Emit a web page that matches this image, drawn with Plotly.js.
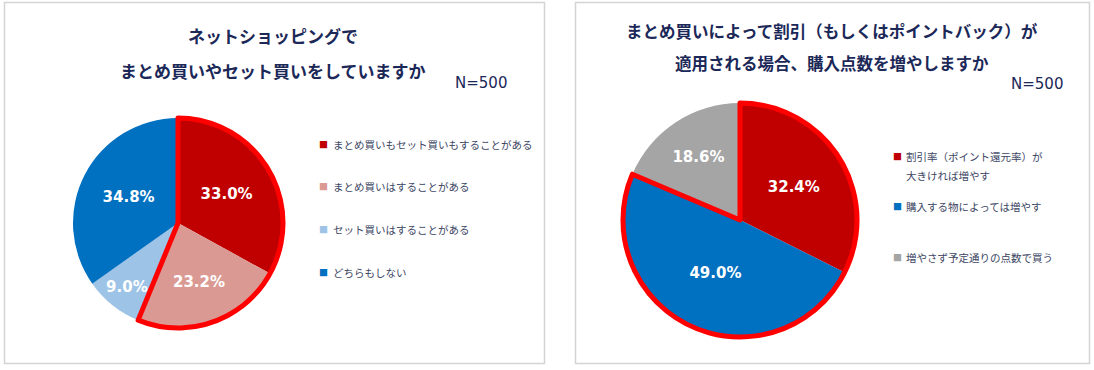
<!DOCTYPE html>
<html>
<head>
<meta charset="utf-8">
<script src="https://cdn.plot.ly/plotly-3.0.1.min.js"></script>
<style>
  html, body { margin: 0; padding: 0; background: #ffffff; }
  #chart { width: 1094px; height: 370px; }
</style>
</head>
<body>
<div id="chart"></div>
<script>
// ---- Data ----
const leftTitleLines = ['ネットショッピングで', 'まとめ買いやセット買いをしていますか'];
const leftCategories = ['まとめ買いもセット買いもすることがある', 'まとめ買いはすることがある', 'セット買いはすることがある', 'どちらもしない'];
const leftValues = [33.0, 23.2, 9.0, 34.8];
const leftColors = ['#C00000', '#DA9A93', '#9DC3E6', '#0070C0'];
const leftHighlighted = [0, 1];

const rightTitleLines = ['まとめ買いによって割引（もしくはポイントバック）が', '適用される場合、購入点数を増やしますか'];
const rightLegendLines = [['割引率（ポイント還元率）が', '大きければ増やす'], ['購入する物によっては増やす'], ['増やさず予定通りの点数で買う']];
const rightCategories = rightLegendLines.map(l => l.join(''));
const rightValues = [32.4, 49.0, 18.6];
const rightColors = ['#C00000', '#0070C0', '#A5A5A5'];
const rightHighlighted = [0, 1];

const sampleNote = 'N=500';

// ---- Layout constants ----
const W = 1094, H = 370;
const px = x => x / W;
const py = y => 1 - y / H;
const titleColor = '#1B2858';
const legendColor = '#3C4563';
const cjk = '"Noto Sans CJK JP", "Noto Sans", sans-serif';

function pieTrace(labels, values, colors, domain) {
  return {
    type: 'pie', labels: labels, values: values, sort: false, direction: 'clockwise', rotation: 0,
    marker: { colors: colors, line: { width: 0 } },
    texttemplate: '%{value:.1f}%', textposition: 'inside', insidetextorientation: 'horizontal',
    textfont: { family: '"DejaVu Sans", Verdana, sans-serif', size: 15, color: '#ffffff', weight: 'bold' },
    domain: domain, showlegend: false, hoverinfo: 'label+percent'
  };
}
function outlineTrace(values, highlighted, domain) {
  const hi = values.filter((v, i) => highlighted.includes(i)).reduce((a, b) => a + b, 0);
  const rest = values.filter((v, i) => !highlighted.includes(i)).reduce((a, b) => a + b, 0);
  return {
    type: 'pie', labels: ['highlight', 'rest'], values: [hi, rest], sort: false, direction: 'clockwise', rotation: 0,
    marker: { colors: ['rgba(0,0,0,0)', 'rgba(0,0,0,0)'], line: { color: '#FF0000', width: [5, 0] } },
    textinfo: 'none', hoverinfo: 'skip', domain: domain, showlegend: false
  };
}

const leftDomain = { x: [px(73), px(283)], y: [py(328), py(118)] };
const rightDomain = { x: [px(623), px(857)], y: [py(337), py(103)] };

const data = [
  pieTrace(leftCategories, leftValues, leftColors, leftDomain),
  outlineTrace(leftValues, leftHighlighted, leftDomain),
  pieTrace(rightCategories, rightValues, rightColors, rightDomain),
  outlineTrace(rightValues, rightHighlighted, rightDomain)
];

const annotations = [];
function addText(text, x, y, opts) {
  annotations.push(Object.assign({
    text: text, x: px(x), y: py(y), xref: 'paper', yref: 'paper', showarrow: false,
    xanchor: 'left', yanchor: 'middle', align: 'left',
    font: { family: cjk, size: 10.5, color: legendColor }
  }, opts || {}));
}
// titles
leftTitleLines.forEach((t, i) => addText('<b>' + t + '</b>', 273, [35, 70][i], { xanchor: 'center', align: 'center', font: { family: cjk, size: 17, color: titleColor } }));
rightTitleLines.forEach((t, i) => addText('<b>' + t + '</b>', 832, [31, 63][i], { xanchor: 'center', align: 'center', font: { family: cjk, size: 16.5, color: titleColor } }));
// N notes
const nFont = { family: '"DejaVu Sans", sans-serif', size: 15, color: titleColor };
addText(sampleNote, 481, 83, { xanchor: 'center', font: nFont });
addText(sampleNote, 1037, 84, { xanchor: 'center', font: nFont });
// legends
const leftRows = [144, 187, 229, 272];
leftCategories.forEach((c, i) => {
  addText('■', 323.5, leftRows[i], { xanchor: 'center', font: { family: cjk, size: 9, color: leftColors[i] } });
  addText(c, 331, leftRows[i]);
});
const rightRows = [[156, 175], [207], [257]];
rightLegendLines.forEach((lines, i) => {
  addText('■', 897.5, rightRows[i][0], { xanchor: 'center', font: { family: cjk, size: 9, color: rightColors[i] } });
  lines.forEach((l, j) => addText(l, 904, rightRows[i][j]));
});

const shapes = [
  { type: 'rect', xref: 'paper', yref: 'paper', x0: px(4.5), x1: px(544.5), y0: py(363.5), y1: py(2.5), line: { color: '#D4D4D4', width: 1.5 } },
  { type: 'rect', xref: 'paper', yref: 'paper', x0: px(575.5), x1: px(1089.5), y0: py(363.5), y1: py(2.5), line: { color: '#D4D4D4', width: 1.5 } }
];

const layout = {
  width: W, height: H, margin: { l: 0, r: 0, t: 0, b: 0 },
  paper_bgcolor: '#ffffff', plot_bgcolor: '#ffffff',
  showlegend: false,
  uniformtext: { minsize: 15, mode: 'show' },
  annotations: annotations, shapes: shapes
};

Plotly.newPlot('chart', data, layout, { displayModeBar: false, staticPlot: true });
</script>
</body>
</html>
